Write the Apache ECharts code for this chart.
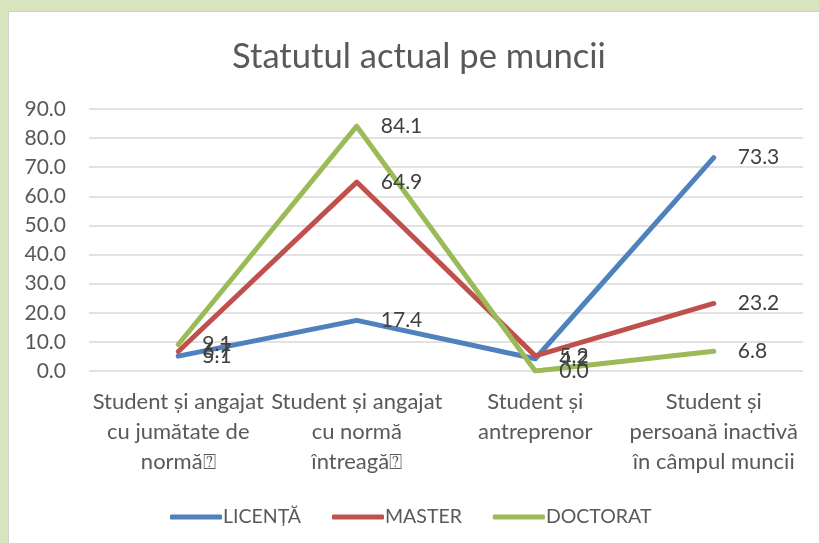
<!DOCTYPE html>
<html><head><meta charset="utf-8">
<script src="https://cdn.jsdelivr.net/npm/echarts@6/dist/echarts.min.js"></script>
<style>
html,body{margin:0;padding:0;width:819px;height:543px;background:#D7E4BD;overflow:hidden;}
#panel{position:absolute;left:8px;top:11px;width:811px;height:532px;background:#fff;border-left:1px solid #d0d0d0;border-top:1px solid #d0d0d0;}
#c{position:absolute;left:0;top:0;width:819px;height:543px;}
</style></head><body>
<div id="panel"></div>
<div id="c"></div>
<script>
var categories = [
  "Student și angajat\ncu jumătate de\nnormă⍰",
  "Student și angajat\ncu normă\nîntreagă⍰",
  "Student și\nantreprenor",
  "Student și\npersoană inactivă\nîn câmpul muncii"
];
var seriesNames = ["LICENȚĂ", "MASTER", "DOCTORAT"];
var licenta = [5.1, 17.4, 4.2, 73.3];
var master = [6.7, 64.9, 5.2, 23.2];
var doctorat = [9.1, 84.1, 0.0, 6.8];
var yTicks = [0, 90, 10];
var colors = ["#4F81BD", "#C0504D", "#9BBB59"];
var FONT = "Lato";

var chart = echarts.init(document.getElementById('c'), null, {renderer:'canvas'});
function mk(name, data, color){
  return {
    name: name, type: 'line', data: data, symbol: 'circle', symbolSize: 0.1, showSymbol: true,
    lineStyle: {color: color, width: 5, cap: 'round', join: 'round'},
    itemStyle: {color: color},
    label: {show: true, position: 'right', distance: 24, color: '#404040', fontSize: 21, fontFamily: FONT,
      formatter: function(p){ return p.value.toFixed(1); }},
    labelLayout: {hideOverlap: false},
    z: 2
  };
}
chart.setOption({
  animation: false,
  backgroundColor: 'transparent',
  title: {text: 'Statutul actual pe muncii', left: 227, top: 34,
    textStyle: {fontFamily: FONT, fontSize: 34.6, fontWeight: 'normal', color: '#595959'}},
  grid: {left: 89, right: 16, top: 109, bottom: 172, containLabel: false},
  legend: {bottom: 11, left: 165, itemWidth: 52, itemHeight: 5, itemGap: 31,
    icon: 'roundRect',
    textStyle: {fontFamily: FONT, fontSize: 19.5, color: '#595959', padding: [0,0,0,-4]},
    data: seriesNames},
  xAxis: {type: 'category', data: categories, boundaryGap: true,
    axisLine: {show: false}, axisTick: {show: false},
    axisLabel: {interval: 0, margin: 16, fontFamily: FONT, fontSize: 22, color: '#595959', lineHeight: 30, align: 'center'}},
  yAxis: {type: 'value', min: yTicks[0], max: yTicks[1], interval: yTicks[2],
    axisLine: {show: false}, axisTick: {show: false},
    splitLine: {lineStyle: {color: '#D9D9D9', width: 1.5}},
    axisLabel: {margin: 23, fontFamily: FONT, fontSize: 21, color: '#595959',
      formatter: function(v){ return v.toFixed(1); }}},
  series: [mk(seriesNames[0], licenta, colors[0]), mk(seriesNames[1], master, colors[1]), mk(seriesNames[2], doctorat, colors[2])]
});
</script>
</body></html>
